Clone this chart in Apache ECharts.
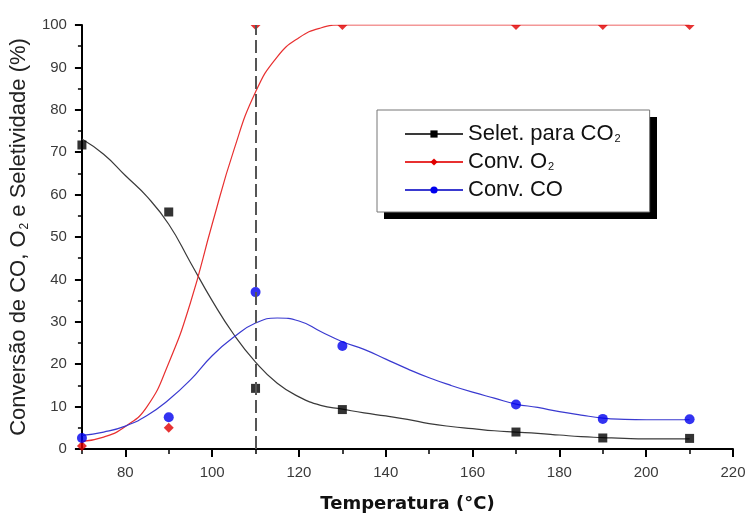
<!DOCTYPE html>
<html>
<head>
<meta charset="utf-8">
<script src="https://cdn.jsdelivr.net/npm/echarts@6/dist/echarts.min.js"></script>
<style>
  html, body { margin: 0; padding: 0; background: #fff; }
  #chart { width: 750px; height: 518px; }
</style>
</head>
<body>
<div id="chart"></div>
<script>
// Measured points (temperature in °C, values in %)
const temps = [70, 90, 110, 130, 170, 190, 210];
const seletCO2 = [71.7, 55.9, 14.3, 9.3, 4.0, 2.6, 2.5];
const convO2 = [0.7, 5.0, 100, 100, 100, 100, 100];
const convCO = [2.6, 7.5, 37.0, 24.3, 10.5, 7.1, 7.0];

// Fitted trend curves, sampled every 5 °C
const fitTemps = [70, 75, 80, 85, 90, 95, 100, 105, 110, 115, 120, 125, 130, 135, 140,
                  145, 150, 155, 160, 165, 170, 175, 180, 185, 190, 195, 200, 205, 210];
const fitSelet = [73.1, 69.5, 64.5, 59.5, 53, 44, 35, 27, 20.5, 15.5, 12.3, 10.3, 9.4, 8.5, 7.8,
                  7.0, 6.0, 5.3, 4.8, 4.3, 4.0, 3.7, 3.3, 2.9, 2.7, 2.5, 2.4, 2.4, 2.4];
const fitO2 = [1.8, 2.8, 5.3, 10, 20.3, 34.5, 53, 70.5, 84.2, 92.5, 97, 99.3, 100, 100, 100,
               100, 100, 100, 100, 100, 100, 100, 100, 100, 100, 100, 100, 100, 100];
const fitCO = [3.2, 4.0, 5.4, 7.9, 11.6, 16.3, 22, 26.4, 29.7, 30.9, 30.2, 27.7, 25.3, 23.5, 21.2,
               18.9, 16.8, 15.0, 13.4, 12.0, 10.6, 9.8, 8.8, 8.0, 7.3, 7.0, 6.9, 6.9, 6.9];

// Axis ticks
const xLabelValues = [80, 100, 120, 140, 160, 180, 200, 220];
const xMinorValues = [70, 90, 110, 130, 150, 170, 190, 210];
const lightOffTemp = 110;

const X_MIN = 70, X_MAX = 220, Y_MIN = 0, Y_MAX = 100;

const NAME_SEL = 'Selet. para CO2';
const NAME_O2 = 'Conv. O2';
const NAME_CO = 'Conv. CO';

const pairs = (xs, ys) => xs.map((x, i) => [x, ys[i]]);

// Diamonds sitting on the top edge of the plot are cut in half by the frame
const halfDiamond = 'path://M0 0L10 0L5 5Z';
const o2Points = temps.map((t, i) => convO2[i] >= Y_MAX
  ? { value: [t, convO2[i]], symbol: halfDiamond, symbolSize: [10, 5], symbolOffset: [0, 2.5] }
  : [t, convO2[i]]);

const FONT = "'Liberation Sans', Arial, sans-serif";

// Legend box geometry (the black drop shadow sits behind it)
const LEG_LEFT = 377, LEG_TOP = 110, LEG_W = 273, LEG_H = 102, SHADOW = 7;

const chart = echarts.init(document.getElementById('chart'), null, { renderer: 'canvas' });

chart.setOption({
  backgroundColor: '#fff',
  animation: false,
  grid: { left: 79, right: 17, top: 25, bottom: 66, containLabel: false },
  graphic: [
    {
      type: 'rect',
      left: LEG_LEFT + SHADOW,
      top: LEG_TOP + SHADOW,
      shape: { width: LEG_W, height: LEG_H },
      style: { fill: '#000' },
      silent: true,
      z: 0
    }
  ],
  legend: {
    orient: 'vertical',
    left: LEG_LEFT,
    top: LEG_TOP,
    padding: [11, 29, 11, 27],
    itemGap: 4,
    itemWidth: 58,
    itemHeight: 9,
    backgroundColor: '#fff',
    borderColor: '#777',
    borderWidth: 1,
    borderRadius: 0,
    selectedMode: false,
    z: 10,
    data: [NAME_SEL, NAME_O2, NAME_CO],
    formatter: function (name) {
      if (name === NAME_SEL) return '{m|Selet. para CO}{sub|2}';
      if (name === NAME_O2) return '{m|Conv. O}{sub|2}';
      return '{m|' + name + '}{sub| }';
    },
    textStyle: {
      fontFamily: FONT,
      fontSize: 22,
      color: '#111',
      lineHeight: 20,
      rich: {
        m: { fontFamily: FONT, fontSize: 22, color: '#111', lineHeight: 20 },
        sub: { fontFamily: FONT, fontSize: 11, color: '#111', verticalAlign: 'bottom', lineHeight: 20, padding: [12, 0, 0, 1] }
      }
    }
  },
  xAxis: [
    {
      type: 'value',
      min: X_MIN,
      max: X_MAX,
      position: 'bottom',
      name: 'Temperatura (°C)',
      nameLocation: 'middle',
      nameGap: 46,
      nameTextStyle: { fontFamily: "'DejaVu Sans', Verdana, sans-serif", fontWeight: 'bold', fontSize: 18, color: '#111' },
      axisLine: { show: true, lineStyle: { color: '#000', width: 2 } },
      axisTick: { show: true, inside: false, length: 8, customValues: xLabelValues, lineStyle: { color: '#000', width: 2 } },
      axisLabel: { show: true, customValues: xLabelValues, margin: 16, fontFamily: FONT, fontSize: 15, color: '#3a3a3a' },
      splitLine: { show: false }
    },
    {
      type: 'value',
      min: X_MIN,
      max: X_MAX,
      position: 'bottom',
      axisLine: { show: false },
      axisTick: { show: true, inside: false, length: 5, customValues: xMinorValues, lineStyle: { color: '#000', width: 1.5 } },
      axisLabel: { show: false },
      splitLine: { show: false }
    }
  ],
  yAxis: {
    type: 'value',
    min: Y_MIN,
    max: Y_MAX,
    interval: 10,
    name: 'Conversão de CO, O{sub|2} e Seletividade (%)',
    nameLocation: 'middle',
    nameGap: 41,
    nameTextStyle: {
      fontFamily: FONT,
      fontSize: 22,
      color: '#222',
      rich: {
        sub: { fontFamily: FONT, fontSize: 12, color: '#222', verticalAlign: 'bottom', padding: [12, 0, 0, 1] }
      }
    },
    axisLine: { show: true, lineStyle: { color: '#000', width: 2 } },
    axisTick: { show: true, inside: false, length: 7, lineStyle: { color: '#000', width: 2 } },
    minorTick: { show: true, splitNumber: 2, length: 4, lineStyle: { color: '#000', width: 1.5 } },
    axisLabel: { margin: 15, fontFamily: FONT, fontSize: 15, color: '#3a3a3a' },
    splitLine: { show: false },
    minorSplitLine: { show: false }
  },
  series: [
    {
      name: NAME_SEL,
      type: 'line',
      data: pairs(fitTemps, fitSelet),
      smooth: true,
      symbol: 'rect',
      showSymbol: false,
      itemStyle: { color: '#000' },
      lineStyle: { color: '#3a3a3a', width: 1.2 },
      z: 3,
      markLine: {
        silent: true,
        symbol: ['none', 'none'],
        label: { show: false },
        lineStyle: { color: '#555', width: 2, type: [13, 5] },
        data: [{ xAxis: lightOffTemp }]
      }
    },
    {
      name: NAME_O2,
      type: 'line',
      data: pairs(fitTemps, fitO2),
      smooth: true,
      symbol: 'diamond',
      showSymbol: false,
      itemStyle: { color: '#e00000' },
      lineStyle: { color: '#e83030', width: 1.2 },
      z: 3
    },
    {
      name: NAME_CO,
      type: 'line',
      data: pairs(fitTemps, fitCO),
      smooth: true,
      symbol: 'circle',
      showSymbol: false,
      itemStyle: { color: '#0000ee' },
      lineStyle: { color: '#3a3ad0', width: 1.2 },
      z: 3
    },
    {
      name: NAME_SEL,
      type: 'scatter',
      data: pairs(temps, seletCO2),
      symbol: 'rect',
      symbolSize: 9,
      itemStyle: { color: '#000' },
      z: 4
    },
    {
      name: NAME_O2,
      type: 'scatter',
      data: o2Points,
      symbol: 'diamond',
      symbolSize: 10,
      itemStyle: { color: '#e00000' },
      z: 4
    },
    {
      name: NAME_CO,
      type: 'scatter',
      data: pairs(temps, convCO),
      symbol: 'circle',
      symbolSize: 10,
      itemStyle: { color: '#0000ee' },
      z: 4
    }
  ]
});
</script>
</body>
</html>
